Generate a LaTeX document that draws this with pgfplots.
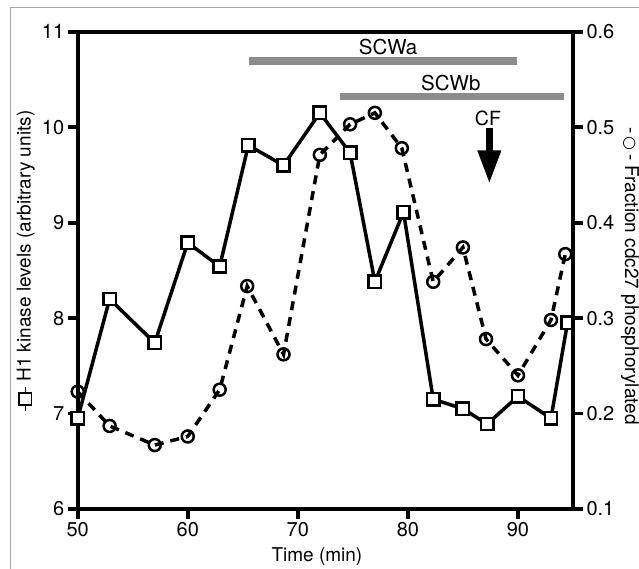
\documentclass[border=0pt]{standalone}
\usepackage{fontspec}
\setmainfont{TeX Gyre Heros}
\newfontfamily\djv{DejaVu Sans}
\usepackage{pgfplots}
\pgfplotsset{compat=1.18}
\usetikzlibrary{arrows.meta}
\newcommand\sqsym{{\setlength\fboxrule{1.6bp}\setlength\fboxsep{0pt}%
\rule[4.2bp]{6bp}{1.6bp}\kern-0.5bp\fbox{\rule{0pt}{10.5bp}\rule{10bp}{0pt}}\kern-0.5bp\rule[4.2bp]{6bp}{1.6bp}}}
\newcommand\cisym{-\,{\djv\fontsize{16bp}{18bp}\selectfont ○}\,-}
\begin{document}
\begin{tikzpicture}[font=\fontsize{19bp}{22bp}\selectfont]
\path[use as bounding box] (-77.7bp,-60bp) rectangle (561.3bp,509bp);
\draw[gray!70, line width=1bp] (-66.7bp,-60bp) -- (-66.7bp,501bp) -- (561.3bp,501bp);
\begin{axis}[
  at={(0,0)}, anchor=south west,
  scale only axis, width=495.3bp, height=477.3bp,
  xmin=50, xmax=95, ymin=6, ymax=11,
  xtick={50,60,70,80,90}, ytick={6,7,8,9,10,11},
  xtick pos=bottom, ytick pos=left,
  tick align=outside, major tick length=10bp,
  every tick/.style={black, line width=3.8bp},
  axis line style={line width=3.8bp},
  /pgf/number format/assume math mode=true,
  ticklabel style={font=\fontsize{20bp}{24bp}\selectfont},
  xlabel={Time (min)},
  xlabel style={at={(axis description cs:0.483,-0.111)}, anchor=base},
  ylabel={\sqsym\ H1 kinase levels (arbitrary units)},
  ylabel style={at={(axis description cs:-0.105,0.52)}, anchor=center, rotate=0},
  clip=false,
]
\addplot[gray!90, line width=7.3bp] coordinates {(65.6,10.694) (89.9,10.694)};
\addplot[gray!90, line width=7.3bp] coordinates {(73.85,10.323) (94.2,10.323)};
\node[anchor=base, font=\fontsize{20.5bp}{24bp}\selectfont] at (axis cs:78.2,10.764) {SCWa};
\node[anchor=base, font=\fontsize{20.5bp}{24bp}\selectfont] at (axis cs:83.9,10.382) {SCWb};
\node[anchor=base, font=\fontsize{19.5bp}{24bp}\selectfont] at (axis cs:87.27,10.02) {CF};
\addplot[black, line width=6.7bp, -{Triangle[width=22bp,length=33bp]}] coordinates {(87.4,9.986) (87.4,9.41)};
\addplot[black, line width=3.5bp, mark=square*, mark size=6.2bp,
  mark options={fill=white, line width=2.5bp}] coordinates {
(50,6.95) (52.9,8.2) (57,7.74) (60,8.79) (62.9,8.54) (65.5,9.81) (68.7,9.60)
(72,10.15) (74.75,9.73) (77,8.38) (79.6,9.11) (82.3,7.15) (85,7.05) (87.2,6.89)
(90,7.18) (93,6.95) (94.5,7.95)};
\end{axis}
\begin{axis}[
  at={(0,0)}, anchor=south west,
  scale only axis, width=495.3bp, height=477.3bp,
  xmin=50, xmax=95, ymin=0.1, ymax=0.6,
  axis x line=none, axis y line*=right,
  ytick={0.1,0.2,0.3,0.4,0.5,0.6},
  yticklabel style={/pgf/number format/fixed, /pgf/number format/precision=1},
  tick align=outside, major tick length=10bp,
  every tick/.style={black, line width=3.8bp},
  axis line style={line width=3.8bp, -},
  /pgf/number format/assume math mode=true,
  ticklabel style={font=\fontsize{20bp}{24bp}\selectfont},
  ylabel={\cisym\ Fraction cdc27 phosphorylated},
  ylabel style={at={(axis description cs:1.115,0.488)}, anchor=center, rotate=180},
  clip=false,
]
\addplot[black, line width=3.5bp, dash pattern=on 9bp off 7bp, mark=o, mark size=6bp,
  mark options={solid, fill=white, line width=2.5bp}] coordinates {
(50,0.223) (52.9,0.187) (57,0.167) (60,0.176) (62.9,0.225) (65.4,0.3335) (68.7,0.262)
(72,0.471) (74.75,0.503) (77,0.515) (79.45,0.478) (82.3,0.338) (85,0.374) (87.1,0.278)
(90,0.240) (93,0.298) (94.3,0.367)};
\end{axis}
\end{tikzpicture}
\end{document}
